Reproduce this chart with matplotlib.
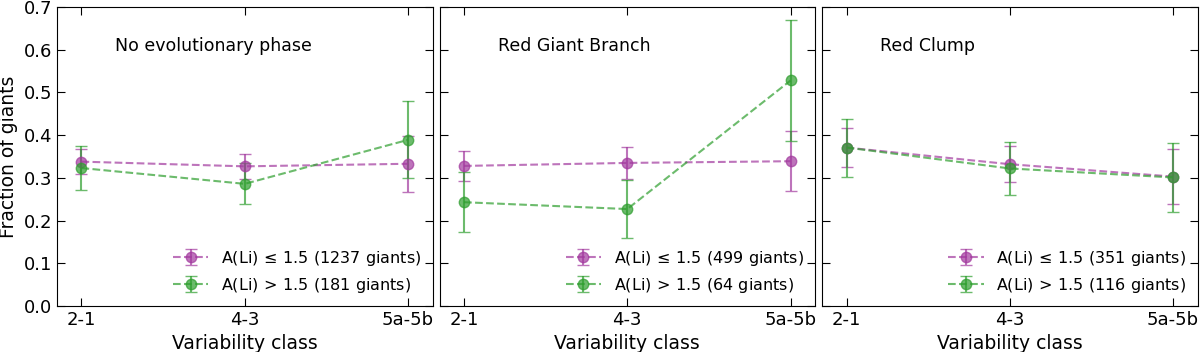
import matplotlib
matplotlib.use("Agg")
import matplotlib.pyplot as plt
import numpy as np

classes = ["2-1", "4-3", "5a-5b"]
titles = ["No evolutionary phase", "Red Giant Branch", "Red Clump"]

low_frac = [[0.338, 0.327, 0.333], [0.328, 0.335, 0.339], [0.371, 0.332, 0.303]]
low_err = [[0.029, 0.030, 0.065], [0.036, 0.037, 0.070], [0.045, 0.042, 0.065]]
high_frac = [[0.323, 0.286, 0.389], [0.243, 0.227, 0.528], [0.371, 0.322, 0.301]]
high_err = [[0.052, 0.048, 0.090], [0.070, 0.068, 0.141], [0.068, 0.063, 0.080]]
low_n = [1237, 499, 351]
high_n = [181, 64, 116]

purple = "#a2399e"
green = "#2e9e2e"

fig, axes = plt.subplots(1, 3, figsize=(12, 3.52), dpi=100, sharey=True)
fig.subplots_adjust(left=0.0475, right=0.998, bottom=0.1307, top=0.980, wspace=0.0187)

x = np.arange(len(classes))
for i, ax in enumerate(axes):
    ax.errorbar(x, low_frac[i], yerr=low_err[i], fmt="o--", color=purple, alpha=0.7,
                ms=7.5, capsize=4, lw=1.5, elinewidth=1.5,
                label=r"A(Li)$\,\leq\,$1.5 (%d giants)" % low_n[i])
    ax.errorbar(x, high_frac[i], yerr=high_err[i], fmt="o--", color=green, alpha=0.7,
                ms=7.5, capsize=4, lw=1.5, elinewidth=1.5,
                label=r"A(Li)$\,>\,$1.5 (%d giants)" % high_n[i])
    ax.set_xlim(-0.15, 2.15)
    ax.set_ylim(0, 0.7)
    ax.set_xticks(x)
    ax.set_xticklabels(classes)
    ax.set_yticks(np.arange(0, 0.71, 0.1))
    ax.tick_params(direction="in", top=True, right=True, length=6, labelsize=13)
    ax.set_xlabel("Variability class", fontsize=13.5)
    ax.text(0.155, 0.87, titles[i], transform=ax.transAxes, fontsize=12.5, va="center")
    ax.legend(loc="lower right", frameon=False, fontsize=11.5, handlelength=2.2,
              borderaxespad=0.3, labelspacing=0.5)
axes[0].set_ylabel("Fraction of giants", fontsize=13.5)
axes[0].set_yticklabels(["%.1f" % v for v in np.arange(0, 0.71, 0.1)])

fig.savefig("out.png", dpi=100)
